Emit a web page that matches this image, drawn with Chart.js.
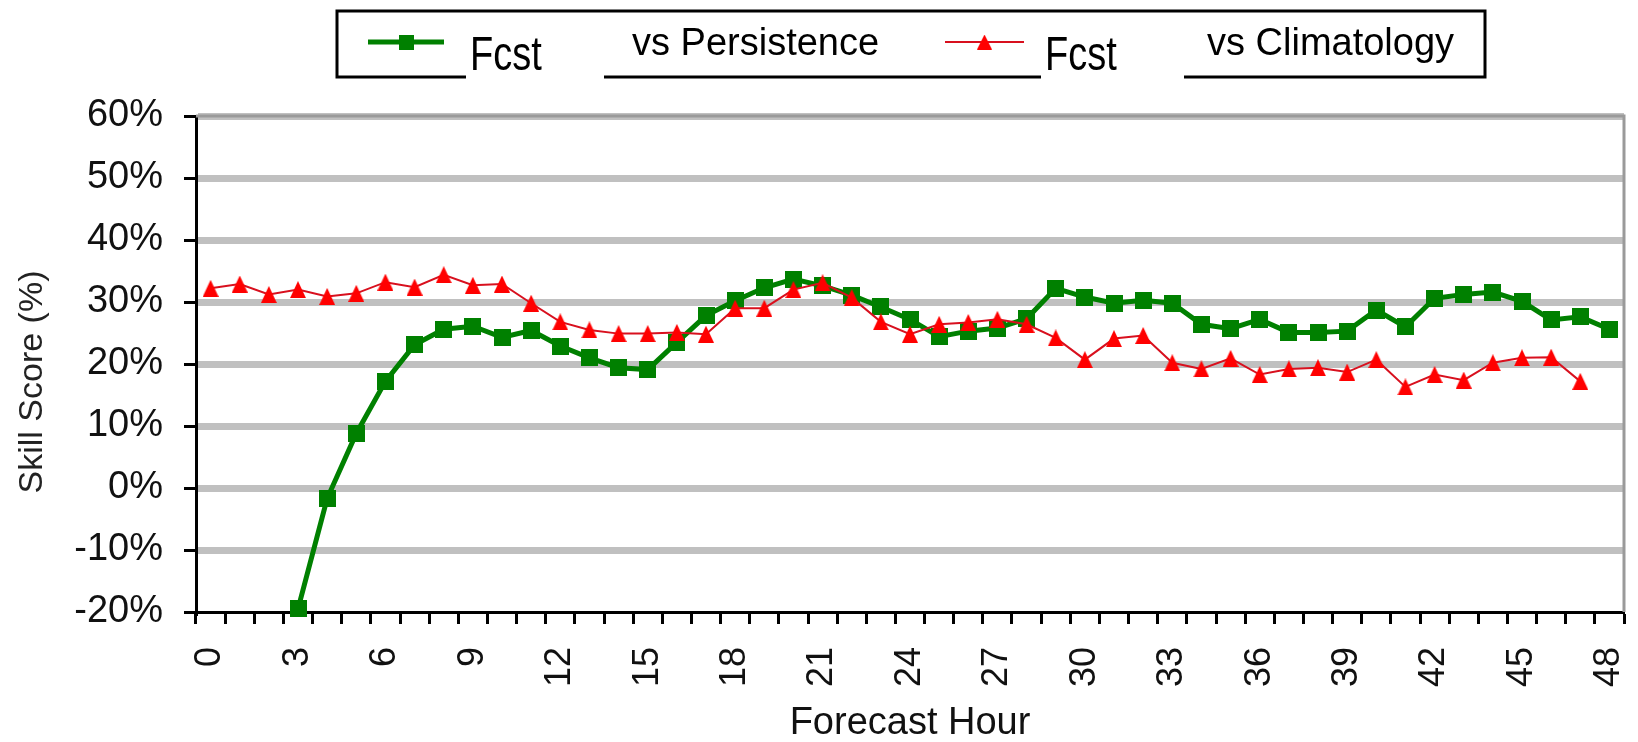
<!DOCTYPE html>
<html>
<head>
<meta charset="utf-8">
<title>Skill Score by Forecast Hour</title>
<script src="https://cdn.jsdelivr.net/npm/chart.js@4.4.1/dist/chart.umd.min.js"></script>
<style>
  html, body { margin: 0; padding: 0; background: #ffffff; }
  #wrap { width: 1638px; height: 742px; position: relative; }
</style>
</head>
<body>
<div id="wrap"><canvas id="chart" width="1638" height="742"></canvas></div>
<script>
// Forecast hours (categories)
const hours = [0, 1, 2, 3, 4, 5, 6, 7, 8, 9, 10, 11, 12, 13, 14, 15, 16, 17, 18, 19, 20,
  21, 22, 23, 24, 25, 26, 27, 28, 29, 30, 31, 32, 33, 34, 35, 36, 37, 38, 39, 40,
  41, 42, 43, 44, 45, 46, 47, 48];

// Hours that carry a tick label on the x axis
const labelledHours = [0, 3, 6, 9, 12, 15, 18, 21, 24, 27, 30, 33, 36, 39, 42, 45, 48];

// Skill score axis (%)
const yTicks = [-20, -10, 0, 10, 20, 30, 40, 50, 60];

// Forecast skill relative to persistence (%)
const vsPersistence = [null, null, null, -19.5, -1.7, 8.8, 17.2, 23.1, 25.6, 26.1, 24.3,
  25.4, 22.9, 21.0, 19.4, 19.1, 23.5, 27.8, 30.2, 32.3, 33.7,
  32.6, 31.1, 29.2, 27.2, 24.4, 25.3, 25.8, 27.3, 32.2, 30.8,
  29.8, 30.3, 29.8, 26.4, 25.7, 27.2, 25.1, 25.1, 25.3, 28.7,
  26.0, 30.6, 31.2, 31.6, 30.1, 27.1, 27.6, 25.6];

// Forecast skill relative to climatology (%)
const vsClimatology = [32.2, 32.9, 31.2, 32.0, 30.9, 31.4, 33.2, 32.4, 34.4, 32.7, 32.9,
  29.8, 26.8, 25.5, 24.9, 24.9, 25.1, 24.8, 29.0, 29.0, 32.0,
  33.1, 30.7, 26.8, 24.8, 26.4, 26.7, 27.2, 26.4, 24.2, 20.7,
  24.1, 24.6, 20.2, 19.2, 20.9, 18.3, 19.2, 19.4, 18.7, 20.7,
  16.3, 18.3, 17.4, 20.2, 21.0, 21.1, 17.2, null];

// Legend text: main word and trailing description for each series
const legendParts = [['Fcst', 'vs Persistence'], ['Fcst', 'vs Climatology']];

// Axis titles
const xTitle = 'Forecast Hour';
const yTitle = 'Skill Score (%)';

const GREEN = '#008000';
const RED = '#ff0000';
const RED_LINE = '#d8101e';
const FONT = '"Liberation Sans", Arial, sans-serif';

function squareMarker(size, color) {
  const c = document.createElement('canvas');
  c.width = size; c.height = size;
  const g = c.getContext('2d');
  g.fillStyle = color;
  g.fillRect(0, 0, size, size);
  return c;
}

function triangleMarker(w, h, color) {
  const c = document.createElement('canvas');
  c.width = w; c.height = h;
  const g = c.getContext('2d');
  g.fillStyle = color;
  g.beginPath();
  g.moveTo(w / 2, 0);
  g.lineTo(w, h);
  g.lineTo(0, h);
  g.closePath();
  g.fill();
  return c;
}

const greenSquare = squareMarker(17, GREEN);
const redTriangle = triangleMarker(16, 17, RED);
const greenSquareSmall = squareMarker(15, GREEN);
const redTriangleSmall = triangleMarker(15, 15, RED);

// Gray frame along the top and right of the plot area
const plotFrame = {
  id: 'plotFrame',
  beforeDatasetsDraw(chart) {
    const a = chart.chartArea;
    const ctx = chart.ctx;
    ctx.save();
    ctx.strokeStyle = '#9a9a9a';
    ctx.lineWidth = 3;
    ctx.beginPath();
    ctx.moveTo(a.left, a.top);
    ctx.lineTo(a.right, a.top);
    ctx.lineTo(a.right, a.bottom);
    ctx.stroke();
    ctx.restore();
  }
};

// Vertical title for the value axis, centred a little below the plot middle
const valueAxisTitle = {
  id: 'valueAxisTitle',
  afterDraw(chart, args, opts) {
    const ctx = chart.ctx;
    ctx.save();
    ctx.translate(opts.x, opts.y);
    ctx.rotate(-Math.PI / 2);
    ctx.fillStyle = opts.color;
    ctx.font = opts.size + 'px ' + FONT;
    ctx.textAlign = 'center';
    ctx.textBaseline = 'middle';
    ctx.fillText(yTitle, 0, 0);
    ctx.restore();
  }
};

// Boxed legend above the plot
const boxLegend = {
  id: 'boxLegend',
  afterDraw(chart, args, opts) {
    const ctx = chart.ctx;
    const b = opts.box;
    ctx.save();
    ctx.fillStyle = '#ffffff';
    ctx.fillRect(b.x, b.y, b.w, b.h);
    ctx.strokeStyle = '#000000';
    ctx.lineWidth = 3;
    ctx.strokeRect(b.x, b.y, b.w, b.h);

    opts.items.forEach((it, i) => {
      const ds = chart.data.datasets[it.dataset];
      // sample line
      ctx.strokeStyle = ds.borderColor;
      ctx.lineWidth = ds.borderWidth;
      ctx.beginPath();
      ctx.moveTo(it.lineFrom, opts.markerY);
      ctx.lineTo(it.lineTo, opts.markerY);
      ctx.stroke();
      const m = it.marker;
      ctx.drawImage(m, (it.lineFrom + it.lineTo) / 2 - m.width / 2, opts.markerY - m.height / 2);

      // white backing behind the tall word, breaking the frame
      ctx.fillStyle = '#ffffff';
      ctx.fillRect(it.gapFrom, b.y + b.h - 8, it.gapTo - it.gapFrom, 14);

      const parts = legendParts[i];
      ctx.fillStyle = '#000000';
      ctx.textBaseline = 'alphabetic';
      ctx.textAlign = 'left';
      ctx.font = '38px ' + FONT;
      ctx.save();
      ctx.translate(it.wordX, opts.wordBaseline);
      ctx.scale(1, 1.27);
      ctx.fillText(parts[0], 0, 0);
      ctx.restore();
      ctx.fillText(parts[1], it.descX, opts.descBaseline);
    });
    ctx.restore();
  }
};

const ctx = document.getElementById('chart').getContext('2d');
new Chart(ctx, {
  type: 'line',
  data: {
    labels: hours,
    datasets: [
      {
        label: legendParts[0].join(' '),
        data: vsPersistence,
        borderColor: GREEN,
        backgroundColor: GREEN,
        borderWidth: 5,
        pointStyle: greenSquare,
        pointRadius: 9,
        pointHoverRadius: 9,
        tension: 0,
        clip: false,
        order: 1
      },
      {
        label: legendParts[1].join(' '),
        data: vsClimatology,
        borderColor: RED_LINE,
        backgroundColor: RED,
        borderWidth: 2,
        pointStyle: redTriangle,
        pointRadius: 9,
        pointHoverRadius: 9,
        tension: 0,
        clip: false,
        order: 0
      }
    ]
  },
  options: {
    responsive: false,
    animation: false,
    devicePixelRatio: 1,
    layout: { padding: { top: 116, right: 9, left: 0, bottom: 0 } },
    plugins: {
      legend: { display: false },
      tooltip: { enabled: false },
      valueAxisTitle: { x: 33, y: 382, size: 34, color: '#222222' },
      boxLegend: {
        box: { x: 337, y: 11, w: 1148, h: 66 },
        markerY: 42,
        wordBaseline: 70,
        descBaseline: 55,
        items: [
          { dataset: 0, marker: greenSquareSmall, lineFrom: 368, lineTo: 444, wordX: 470, descX: 632, gapFrom: 466, gapTo: 604 },
          { dataset: 1, marker: redTriangleSmall, lineFrom: 945, lineTo: 1024, wordX: 1045, descX: 1207, gapFrom: 1041, gapTo: 1184 }
        ]
      }
    },
    scales: {
      x: {
        type: 'category',
        offset: true,
        afterFit(scale) {
          scale.height = 130;
          scale.paddingLeft = 0;
          scale.paddingRight = 0;
        },
        grid: {
          display: true,
          drawOnChartArea: false,
          drawTicks: true,
          offset: true,
          tickLength: 12,
          tickColor: '#000000',
          tickWidth: 3
        },
        border: { display: true, color: '#000000', width: 3 },
        ticks: {
          autoSkip: false,
          maxRotation: 90,
          minRotation: 90,
          padding: 23,
          color: '#111111',
          font: { family: FONT, size: 36 },
          callback(value, index) {
            const h = hours[index];
            return labelledHours.includes(h) ? String(h) : '';
          }
        },
        title: {
          display: true,
          text: xTitle,
          color: '#111111',
          font: { family: FONT, size: 38 },
          padding: { top: 0, bottom: -4 }
        }
      },
      y: {
        min: yTicks[0],
        max: yTicks[yTicks.length - 1],
        afterFit(scale) { scale.width = 196; },
        afterBuildTicks(scale) { scale.ticks = yTicks.map(v => ({ value: v })); },
        grid: {
          color(c) {
            return (c.tick && c.tick.value === yTicks[0]) ? 'rgba(0,0,0,0)' : '#c0c0c0';
          },
          lineWidth: 7,
          drawTicks: true,
          tickLength: 12,
          tickColor: '#000000',
          tickWidth: 3
        },
        border: { display: true, color: '#000000', width: 3 },
        ticks: {
          padding: 21,
          color: '#111111',
          font: { family: FONT, size: 38 },
          callback(value) { return value + '%'; }
        },
        title: { display: false }
      }
    }
  },
  plugins: [plotFrame, valueAxisTitle, boxLegend]
});
</script>
</body>
</html>
